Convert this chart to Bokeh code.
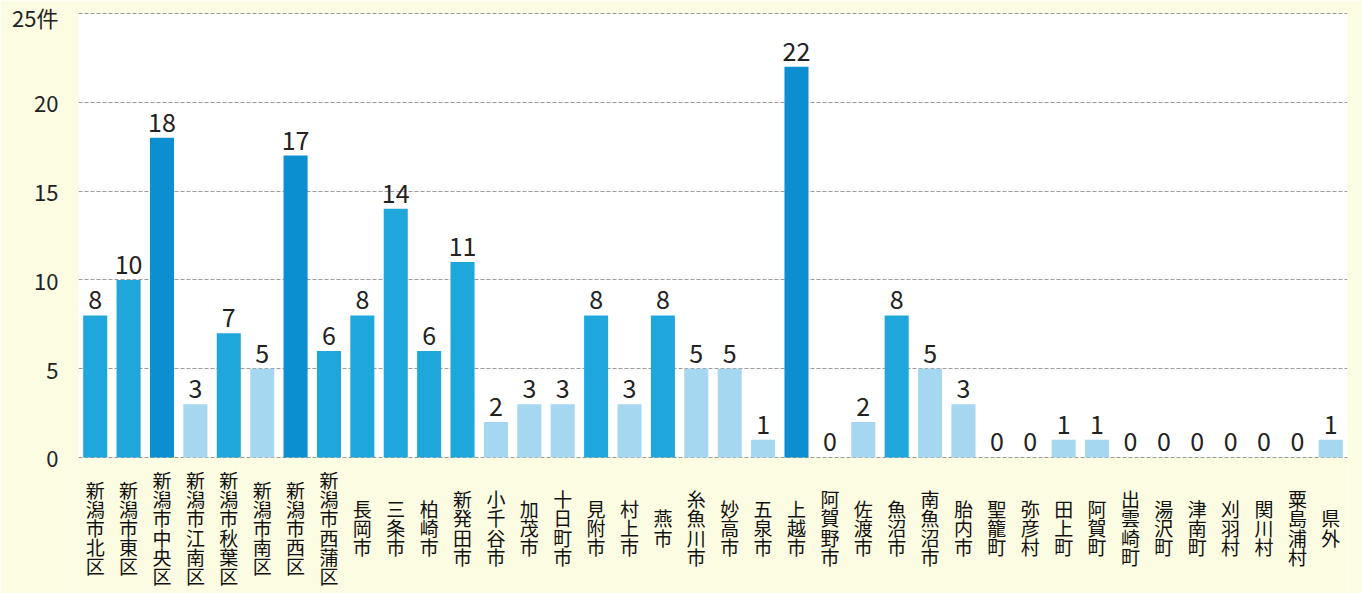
from bokeh.plotting import figure
from bokeh.models import BoxAnnotation, FixedTicker, ColumnDataSource, Range1d
from bokeh.core.properties import value
from bokeh.embed import file_html
from bokeh.resources import INLINE

categories = ["新潟市北区", "新潟市東区", "新潟市中央区", "新潟市江南区", "新潟市秋葉区",
              "新潟市南区", "新潟市西区", "新潟市西蒲区", "長岡市", "三条市", "柏崎市",
              "新発田市", "小千谷市", "加茂市", "十日町市", "見附市", "村上市", "燕市",
              "糸魚川市", "妙高市", "五泉市", "上越市", "阿賀野市", "佐渡市", "魚沼市",
              "南魚沼市", "胎内市", "聖籠町", "弥彦村", "田上町", "阿賀町", "出雲崎町",
              "湯沢町", "津南町", "刈羽村", "関川村", "粟島浦村", "県外"]
counts = [8, 10, 18, 3, 7, 5, 17, 6, 8, 14, 6, 11, 2, 3, 3, 8, 3, 8, 5, 5, 1, 22,
          0, 2, 8, 5, 3, 0, 0, 1, 1, 0, 0, 0, 0, 0, 0, 1]
y_ticks = [0, 5, 10, 15, 20, 25]
y_tick_labels = {25: "25件"}

DARK = "#0b8fd0"
MID = "#1fa7dc"
LIGHT = "#a5d7f0"
YELLOW = "#fcfce2"

W, H = 1362, 593
BORDER_L, BORDER_R, BORDER_T, BORDER_B = 78, 15, 12, 0
Y_TOP = 25.056
Y_BOTTOM = -7.66
PX_PER_UNIT = (H - BORDER_T - BORDER_B) / (Y_TOP - Y_BOTTOM)
LABEL_CENTER = -70 / PX_PER_UNIT
PITCH = 19.2 / PX_PER_UNIT


def tier(v):
    if v >= 15:
        return DARK
    if v >= 6:
        return MID
    return LIGHT


xs = [i + 0.5 for i in range(len(categories))]
src = ColumnDataSource(dict(
    x=xs,
    y=counts,
    color=[tier(v) for v in counts],
    vlabel=[str(v) for v in counts],
))

cx, cy, ch = [], [], []
for i, name in enumerate(categories):
    n = len(name)
    for k, c in enumerate(name):
        cx.append(xs[i])
        cy.append(LABEL_CENTER - (k - (n - 1) / 2) * PITCH)
        ch.append(c)
csrc = ColumnDataSource(dict(x=cx, y=cy, t=ch))

p = figure(width=W, height=H, output_backend="svg", toolbar_location=None,
           x_range=Range1d(0, len(categories)), y_range=Range1d(Y_BOTTOM, Y_TOP),
           x_axis_location=None, min_border_left=BORDER_L, min_border_right=BORDER_R,
           min_border_top=BORDER_T, min_border_bottom=BORDER_B)
p.background_fill_color = YELLOW
p.border_fill_color = YELLOW
p.outline_line_color = None

p.add_layout(BoxAnnotation(left=0, right=len(categories), bottom=0, top=25,
                           fill_color="white", fill_alpha=1, line_color=None,
                           level="image"))

p.xgrid.visible = False
p.ygrid.grid_line_color = "#9a9a9a"
p.ygrid.grid_line_dash = "4 2"
p.ygrid.grid_line_width = 1

p.yaxis.ticker = FixedTicker(ticks=y_ticks)
p.yaxis.major_label_overrides = y_tick_labels
p.yaxis.axis_line_color = None
p.yaxis.major_tick_line_color = None
p.yaxis.minor_tick_line_color = None
p.yaxis.major_label_standoff = 14
p.yaxis.major_label_text_font = "Noto Sans CJK JP"
p.yaxis.major_label_text_font_size = "22px"
p.yaxis.major_label_text_color = "#222222"

p.vbar(x="x", top="y", bottom=0, width=0.72, fill_color="color", line_color=None,
       source=src)

p.text(x="x", y="y", text="vlabel", source=src, text_align="center",
       text_baseline="bottom", y_offset=-6, text_font=value("Noto Sans CJK JP"),
       text_font_size="25px", text_color="#222222")

p.text(x="x", y="y", text="t", source=csrc, text_align="center",
       text_baseline="middle", text_font=value("Noto Sans CJK JP"),
       text_font_size="19px", text_color="#111111")

open("out.html", "w").write(file_html(p, INLINE))
